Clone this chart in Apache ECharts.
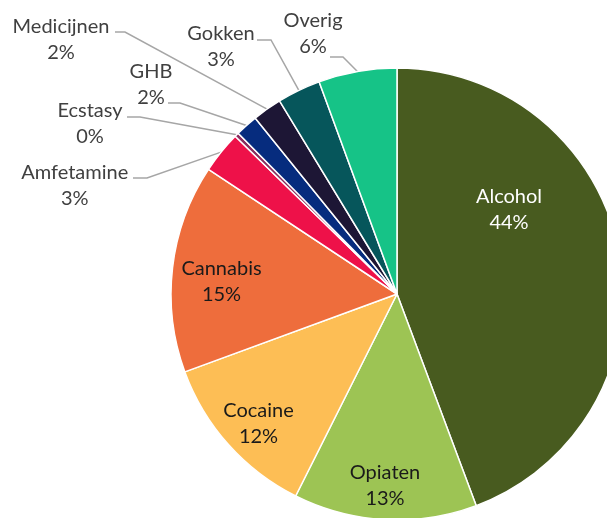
<!DOCTYPE html>
<html><head><meta charset="utf-8">
<script src="https://cdn.jsdelivr.net/npm/echarts@6/dist/echarts.min.js"></script>
<style>html,body{margin:0;padding:0;background:#fff}#c{width:607px;height:518px}</style>
</head><body><div id="c"></div>
<script>
const categories = ['Alcohol','Opiaten','Cocaine','Cannabis','Amfetamine','Ecstasy','GHB','Medicijnen','Gokken','Overig'];
const shares = [44.3, 13.1, 12.0, 14.9, 3.0, 0.3, 1.6, 2.1, 3.1, 5.6];
const colors = ['#485B1F','#9DC454','#FDBE55','#EE6D3C','#EE1149','#8A2D5E','#062C7E','#1D1635','#06565B','#16C387'];
const insideNames = ['Alcohol','Opiaten','Cocaine','Cannabis'];

// label placement (text centre, leader line horizontal segment)
const labelPlacement = {
  Alcohol:    {x: 509,   y: 210},
  Opiaten:    {x: 385,   y: 485.5},
  Cocaine:    {x: 258.5, y: 423.5},
  Cannabis:   {x: 221.5, y: 281.5},
  Amfetamine: {x: 74.7,  y: 186,  lineY: 178, lineX: 133, elbowX: 147},
  Ecstasy:    {x: 90,    y: 124,  lineY: 117, lineX: 127, elbowX: 140},
  GHB:        {x: 151,   y: 85,   lineY: 103, lineX: 168, elbowX: 180},
  Medicijnen: {x: 61,    y: 40,   lineY: 32,  lineX: 115, elbowX: 125},
  Gokken:     {x: 221,   y: 47,   lineY: 40,  lineX: 257, elbowX: 271},
  Overig:     {x: 313,   y: 33.5, lineY: 57,  lineX: 330, elbowX: 343}
};

const FONT = 'Lato';
const data = categories.map((name, i) => {
  const inside = insideNames.indexOf(name) >= 0;
  return {
    name: name,
    value: shares[i],
    itemStyle: {color: colors[i]},
    label: inside
      ? {position: 'inside', color: name === 'Alcohol' ? '#ffffff' : '#1a1a1a'}
      : {position: 'outside', color: '#404040'},
    labelLine: {show: !inside}
  };
});

const chart = echarts.init(document.getElementById('c'), null, {renderer: 'canvas'});
chart.setOption({
  backgroundColor: '#ffffff',
  animation: false,
  series: [{
    type: 'pie',
    center: [397, 294],
    radius: 226,
    startAngle: 90,
    clockwise: true,
    avoidLabelOverlap: false,
    percentPrecision: 2,
    data: data,
    itemStyle: {borderColor: '#ffffff', borderWidth: 1.5},
    label: {
      show: true,
      fontFamily: FONT,
      fontSize: 20,
      lineHeight: 26,
      align: 'center',
      formatter: function (p) { return p.name + '\n' + Math.round(p.percent) + '%'; }
    },
    labelLine: {show: true, lineStyle: {color: '#A6A6A6', width: 1.5}},
    emphasis: {disabled: true},
    labelLayout: function (params) {
      const name = categories[params.dataIndex];
      const pl = labelPlacement[name];
      if (!pl) return {};
      const res = {x: pl.x, y: pl.y, align: 'center', verticalAlign: 'middle', hideOverlap: false, moveOverlap: null};
      if (pl.lineY !== undefined && params.labelLinePoints) {
        const p0 = params.labelLinePoints[0];
        res.labelLinePoints = [[p0[0], p0[1]], [pl.elbowX, pl.lineY], [pl.lineX, pl.lineY]];
      }
      return res;
    }
  }]
});
</script>
</body></html>
